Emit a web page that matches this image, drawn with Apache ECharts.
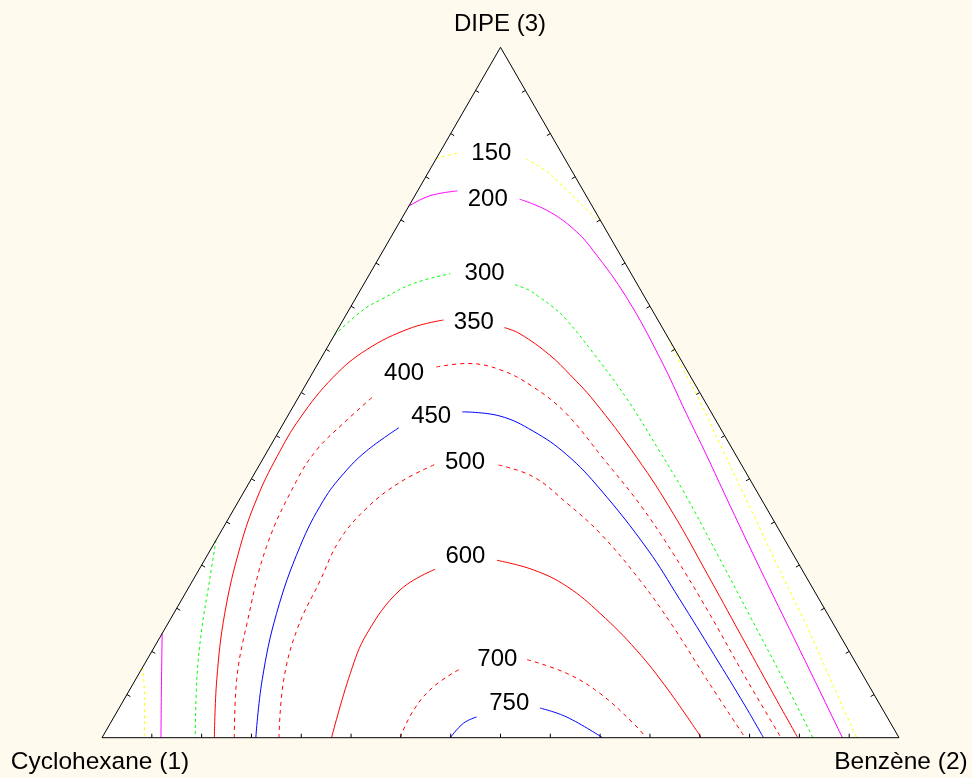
<!DOCTYPE html>
<html>
<head>
<meta charset="utf-8">
<script src="https://cdn.jsdelivr.net/npm/echarts@6/dist/echarts.min.js"></script>
<style>
html,body{margin:0;padding:0;background:#FFFAEE;}
#chart{width:972px;height:778px;}
</style>
</head>
<body>
<div id="chart"></div>
<script>
// Ternary compositions: [x2 (Benzène), x3 (DIPE)], x1 (Cyclohexane) = 1 - x2 - x3
const vertexNames = ['Cyclohexane (1)', 'Benzène (2)', 'DIPE (3)'];
const tickFractions = [1,2,3,4,5,6,7,8,9,10,11,12,13,14,15].map(k => k / 16);

const c150 = [
  [[0,0.102],[0.026,0.055],[0.053,0]],
  [[0,0.839],[0.025,0.848]],
  [[0.113,0.838],[0.145,0.822],[0.173,0.803],[0.213,0.774],[0.252,0.747]],
  [[0.421,0.579],[0.463,0.533],[0.506,0.488],[0.562,0.426],[0.645,0.335],[0.724,0.248],[0.804,0.161],[0.881,0.074],[0.947,0]]
];
const c200 = [
  [[0,0.151],[0.040,0.069],[0.074,0]],
  [[0,0.770],[0.019,0.785],[0.050,0.792]],
  [[0.134,0.780],[0.176,0.764],[0.223,0.737],[0.263,0.706],[0.340,0.637],[0.426,0.549],[0.498,0.470],[0.555,0.408],[0.611,0.346],[0.693,0.256],[0.776,0.166],[0.849,0.087],[0.929,0]]
];
const c300 = [
  [[0,0.286],[0.021,0.228],[0.047,0.156],[0.077,0.084],[0.117,0]],
  [[0,0.583],[0.018,0.620],[0.032,0.634],[0.062,0.658],[0.101,0.672]],
  [[0.190,0.656],[0.210,0.649],[0.230,0.638],[0.252,0.625],[0.278,0.607],[0.338,0.557],[0.413,0.491],[0.489,0.418],[0.552,0.356],[0.638,0.267],[0.726,0.175],[0.813,0.084],[0.892,0]]
];
const c350 = [
  [[0.141,0],[0.102,0.084],[0.064,0.180],[0.035,0.277],[0.021,0.347],[0.016,0.407],[0.017,0.463],[0.029,0.522],[0.051,0.562],[0.090,0.593],[0.126,0.605]],
  [[0.208,0.594],[0.232,0.585],[0.285,0.554],[0.324,0.526],[0.372,0.489],[0.469,0.405],[0.554,0.325],[0.640,0.238],[0.725,0.151],[0.810,0.064],[0.873,0]]
];
const c400 = [
  [[0.166,0],[0.127,0.084],[0.099,0.166],[0.068,0.277],[0.058,0.373],[0.061,0.417],[0.075,0.455],[0.093,0.494]],
  [[0.151,0.537],[0.187,0.542],[0.233,0.533],[0.287,0.508],[0.347,0.470],[0.426,0.405],[0.507,0.337],[0.583,0.267],[0.672,0.180],[0.758,0.093],[0.852,0]]
];
const c450 = [
  [[0.193,0],[0.159,0.084],[0.129,0.180],[0.110,0.277],[0.106,0.344],[0.112,0.383],[0.124,0.415],[0.148,0.449]],
  [[0.216,0.472],[0.266,0.466],[0.319,0.444],[0.378,0.410],[0.445,0.360],[0.549,0.272],[0.623,0.202],[0.708,0.120],[0.784,0.046],[0.830,0]]
];
const c500 = [
  [[0.222,0],[0.186,0.084],[0.166,0.159],[0.160,0.227],[0.155,0.286],[0.166,0.333],[0.189,0.370],[0.220,0.396]],
  [[0.300,0.395],[0.352,0.378],[0.413,0.340],[0.477,0.296],[0.561,0.228],[0.636,0.161],[0.717,0.084],[0.807,0]]
];
const c600 = [
  [[0.288,0],[0.265,0.093],[0.257,0.151],[0.267,0.214],[0.296,0.244]],
  [[0.367,0.257],[0.420,0.243],[0.474,0.219],[0.535,0.180],[0.607,0.127],[0.676,0.069],[0.752,0]]
];
const c700 = [
  [[0.374,0],[0.371,0.040],[0.379,0.074],[0.401,0.101]],
  [[0.477,0.113],[0.537,0.093],[0.593,0.064],[0.656,0.021],[0.683,0]]
];
const c750 = [
  [[0.437,0],[0.443,0.021],[0.455,0.030]],
  [[0.528,0.043],[0.568,0.030],[0.628,0]]
];
const contourLabels = [
  [0.065,0.847,'150'],[0.094,0.780,'200'],[0.144,0.672,'300'],[0.166,0.601,'350'],
  [0.115,0.528,'400'],[0.180,0.466,'450'],[0.256,0.399,'500'],[0.325,0.262,'600'],
  [0.439,0.114,'700'],[0.486,0.050,'750']
];

const SQ = Math.sqrt(3) / 2;
function toXY(p) { return [p[0] + p[1] / 2, p[1] * SQ]; }

const contourDefs = [
  {segs: c150, color: '#FFFF00', dash: [3, 3]},
  {segs: c200, color: '#FF00FF', dash: 'solid'},
  {segs: c300, color: '#00FF00', dash: [3, 3]},
  {segs: c350, color: '#FF0000', dash: 'solid'},
  {segs: c400, color: '#FF0000', dash: [4, 4]},
  {segs: c450, color: '#0000FF', dash: 'solid'},
  {segs: c500, color: '#FF0000', dash: [4, 4]},
  {segs: c600, color: '#FF0000', dash: 'solid'},
  {segs: c700, color: '#FF0000', dash: [4, 4]},
  {segs: c750, color: '#0000FF', dash: 'solid'}
];

const FONT = '"Liberation Sans", Arial, sans-serif';
const series = [];

// triangle fill
series.push({
  type: 'custom', z: 1, silent: true, clip: false,
  data: [[0, 0]],
  renderItem: (params, api) => {
    const pts = [[0,0],[1,0],[0,1]].map(v => api.coord(toXY(v)));
    return {type: 'polygon', shape: {points: pts}, style: {fill: '#FFFFFF', stroke: null}};
  }
});

contourDefs.forEach(def => {
  def.segs.forEach(seg => {
    series.push({
      type: 'line', z: 2, silent: true, symbol: 'none', smooth: 0.4,
      data: seg.map(toXY),
      lineStyle: {color: def.color, width: 1, type: def.dash, opacity: 1},
      animation: false
    });
  });
});

// triangle border
series.push({
  type: 'custom', z: 3, silent: true, clip: false,
  data: [[0, 0]],
  renderItem: (params, api) => {
    const pts = [[0,0],[1,0],[0,1]].map(v => api.coord(toXY(v)));
    return {type: 'polygon', shape: {points: pts}, style: {fill: null, stroke: '#000000', lineWidth: 1}};
  }
});

// ticks on the three edges
series.push({
  type: 'custom', z: 3, silent: true, clip: false,
  data: tickFractions.map(f => [f, 0]),
  renderItem: (params, api) => {
    const f = api.value(0);
    const b = api.coord(toXY([f, 0]));
    const l = api.coord(toXY([0, f]));
    const r = api.coord(toXY([1 - f, f]));
    const L = 4;
    const st = {stroke: '#000000', lineWidth: 1};
    return {type: 'group', children: [
      {type: 'line', shape: {x1: b[0], y1: b[1], x2: b[0], y2: b[1] - L}, style: st},
      {type: 'line', shape: {x1: l[0], y1: l[1], x2: l[0] + L * 0.866, y2: l[1] + L * 0.5}, style: st},
      {type: 'line', shape: {x1: r[0], y1: r[1], x2: r[0] - L * 0.866, y2: r[1] + L * 0.5}, style: st}
    ]};
  }
});

// contour labels
series.push({
  type: 'scatter', z: 4, silent: true, symbolSize: 0,
  itemStyle: {opacity: 1},
  data: contourLabels.map(l => { const xy = toXY([l[0], l[1]]); return [xy[0], xy[1], l[2]]; }),
  label: {show: true, position: 'inside', formatter: p => p.value[2], fontSize: 24, color: '#000000',
          opacity: 1, fontFamily: FONT, textBorderWidth: 0},
  labelLayout: {hideOverlap: false}
});

const chart = echarts.init(document.getElementById('chart'), null, {renderer: 'canvas'});
chart.setOption({
  animation: false,
  backgroundColor: '#FFFAEE',
  grid: {left: 102, top: 47.3, width: 797, height: 690.4, show: false},
  xAxis: {type: 'value', min: 0, max: 1, show: false},
  yAxis: {type: 'value', min: 0, max: SQ, show: false},
  graphic: [
    {type: 'text', x: 500, y: 24, style: {text: vertexNames[2], fontSize: 24, fontFamily: FONT, fill: '#000', align: 'center', verticalAlign: 'middle'}},
    {type: 'text', x: 100, y: 762, style: {text: vertexNames[0], fontSize: 24.5, fontFamily: FONT, fill: '#000', align: 'center', verticalAlign: 'middle'}},
    {type: 'text', x: 901, y: 762, style: {text: vertexNames[1], fontSize: 24.5, fontFamily: FONT, fill: '#000', align: 'center', verticalAlign: 'middle'}}
  ],
  series: series
});
</script>
</body>
</html>
